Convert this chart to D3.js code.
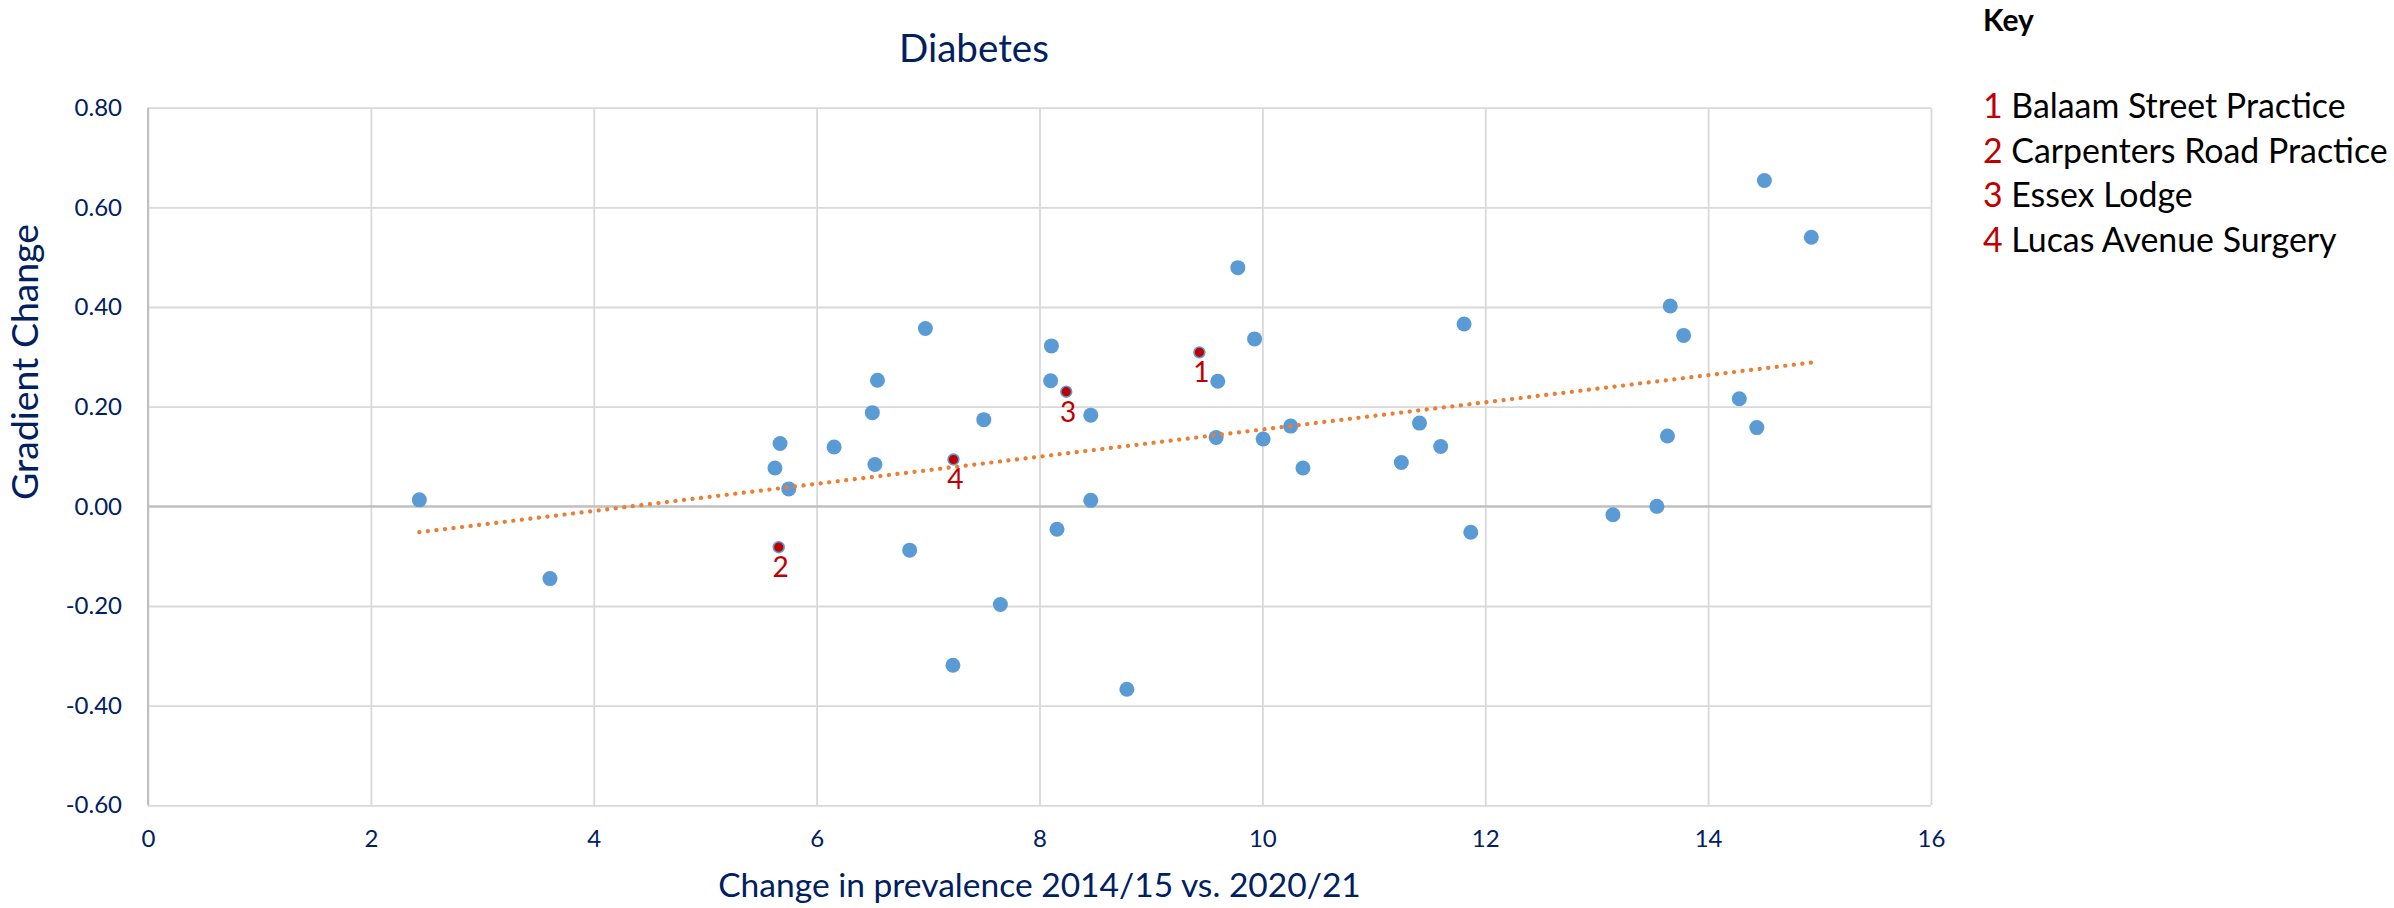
<!DOCTYPE html>
<html>
<head>
<meta charset="utf-8">
<script src="https://cdn.jsdelivr.net/npm/d3@7"></script>
<style>
  html, body { margin: 0; padding: 0; background: #ffffff; }
  svg { display: block; }
  text { font-family: Lato, "Open Sans", "DejaVu Sans", sans-serif; }
</style>
</head>
<body>
<svg id="chart" width="2394" height="908"></svg>
<script>
// Practices: change in prevalence (x) vs gradient change (y)
const practiceX = [2.435, 3.607, 5.626, 5.75, 5.672, 6.157, 6.50, 6.523, 6.546, 6.835,
  6.976, 7.223, 7.50, 7.649, 8.10, 8.107, 8.157, 8.46, 8.46, 8.784,
  9.585, 9.60, 9.78, 9.93, 10.007, 10.254, 10.364, 11.247, 11.41, 11.60,
  11.81, 11.87, 13.146, 13.54, 13.635, 13.66, 13.78, 14.28, 14.437, 14.505, 14.926];
const practiceY = [0.013, -0.145, 0.077, 0.035, 0.126, 0.119, 0.188, 0.084, 0.253, -0.088,
  0.357, -0.319, 0.174, -0.197, 0.252, 0.322, -0.046, 0.183, 0.012, -0.367,
  0.138, 0.251, 0.479, 0.336, 0.135, 0.161, 0.077, 0.088, 0.167, 0.120,
  0.366, -0.052, -0.017, 0.000, 0.141, 0.402, 0.343, 0.216, 0.158, 0.654, 0.540];

// Highlighted practices, numbered in the key
const keyNumbers = ["1", "2", "3", "4"];
const keyNames = ["Balaam Street Practice", "Carpenters Road Practice", "Essex Lodge", "Lucas Avenue Surgery"];
const keyX = [9.435, 5.66, 8.24, 7.228];
const keyY = [0.309, -0.082, 0.230, 0.094];

const xTicks = [0, 2, 4, 6, 8, 10, 12, 14, 16];
const yTicks = [-0.6, -0.4, -0.2, 0, 0.2, 0.4, 0.6, 0.8];

const chartTitle = "Diabetes";
const xTitle = "Change in prevalence 2014/15 vs. 2020/21";
const yTitle = "Gradient Change";
const keyTitle = "Key";

const TEXT = "#002060";
const BLUE = "#5B9BD5";
const RED = "#C00000";
const ORANGE = "#ED7D31";
const GRID = "#D9D9D9";
const AXIS = "#BFBFBF";

const svg = d3.select("#chart");
const plot = { left: 148, right: 1931, top: 107.7, bottom: 805.3 };

const x = d3.scaleLinear().domain([0, 16]).range([plot.left, plot.right]);
const y = d3.scaleLinear().domain([-0.6, 0.8]).range([plot.bottom, plot.top]);

// scale a text element's font so its rendered width equals target
function fitWidth(sel, target) {
  const node = sel.node();
  const fs = parseFloat(sel.attr("font-size"));
  const w = node.getComputedTextLength();
  sel.attr("font-size", fs * target / w);
}

// Gridlines
const gx = svg.append("g")
  .attr("transform", `translate(0,${plot.bottom})`)
  .call(d3.axisBottom(x).tickValues(xTicks).tickSize(-(plot.bottom - plot.top)).tickFormat(""));
gx.select(".domain").remove();
gx.selectAll(".tick line").attr("stroke", GRID).attr("stroke-width", 1.8);

const gy = svg.append("g")
  .attr("transform", `translate(${plot.left},0)`)
  .call(d3.axisLeft(y).tickValues(yTicks).tickSize(-(plot.right - plot.left)).tickFormat(""));
gy.select(".domain").remove();
gy.selectAll(".tick line").attr("stroke", GRID).attr("stroke-width", 1.8);

// Axis lines crossing at zero
svg.append("line")
  .attr("x1", x(0)).attr("x2", x(0))
  .attr("y1", plot.top).attr("y2", plot.bottom)
  .attr("stroke", AXIS).attr("stroke-width", 2);
svg.append("line")
  .attr("x1", plot.left).attr("x2", plot.right)
  .attr("y1", y(0)).attr("y2", y(0))
  .attr("stroke", AXIS).attr("stroke-width", 2.2);

// Tick labels
const xLab = svg.append("g")
  .attr("transform", `translate(0,${plot.bottom})`)
  .call(d3.axisBottom(x).tickValues(xTicks).tickSize(0).tickPadding(25).tickFormat(d3.format("d")));
xLab.select(".domain").remove();
xLab.selectAll("text").attr("fill", TEXT).attr("font-size", 24)
  .style("font-family", "Lato, 'Open Sans', sans-serif");

const yLab = svg.append("g")
  .attr("transform", `translate(${plot.left},0)`)
  .call(d3.axisLeft(y).tickValues(yTicks).tickSize(0).tickPadding(26).tickFormat(d => d.toFixed(2)));
yLab.select(".domain").remove();
yLab.selectAll("text").attr("fill", TEXT).attr("font-size", 24)
  .style("font-family", "Lato, 'Open Sans', sans-serif");

// Practice points
const points = practiceX.map((v, i) => ({ x: v, y: practiceY[i] }));
svg.append("g").selectAll("circle")
  .data(points).join("circle")
  .attr("cx", d => x(d.x)).attr("cy", d => y(d.y))
  .attr("r", 7.5).attr("fill", BLUE);

// Highlighted practices with their numbers
const highlighted = keyX.map((v, i) => ({ x: v, y: keyY[i], n: keyNumbers[i] }));
const hg = svg.append("g");
hg.selectAll("circle")
  .data(highlighted).join("circle")
  .attr("cx", d => x(d.x)).attr("cy", d => y(d.y))
  .attr("r", 5.4).attr("fill", RED)
  .attr("stroke", BLUE).attr("stroke-width", 1.6);
hg.selectAll("text")
  .data(highlighted).join("text")
  .attr("x", d => x(d.x) + 2).attr("y", d => y(d.y) + 30)
  .attr("text-anchor", "middle")
  .attr("font-size", 28).attr("fill", RED)
  .text(d => d.n);

// Linear trendline (least squares) over the practice series
const mx = d3.mean(practiceX), my = d3.mean(practiceY);
let sxy = 0, sxx = 0;
practiceX.forEach((v, i) => { sxy += (v - mx) * (practiceY[i] - my); sxx += (v - mx) * (v - mx); });
const slope = sxy / sxx, intercept = my - slope * mx;
const [xmin, xmax] = d3.extent(practiceX);
svg.append("path")
  .datum([xmin, xmax])
  .attr("d", d3.line().x(d => x(d)).y(d => y(intercept + slope * d)))
  .attr("fill", "none")
  .attr("stroke", ORANGE).attr("stroke-width", 4.2)
  .attr("stroke-linecap", "round")
  .attr("stroke-dasharray", "0.1,8.5");

// Titles
const t = svg.append("text")
  .attr("x", 899).attr("y", 62)
  .attr("font-size", 40).attr("fill", TEXT)
  .text(chartTitle);
fitWidth(t, 150);

const xt = svg.append("text")
  .attr("x", (plot.left + plot.right) / 2).attr("y", 897)
  .attr("text-anchor", "middle")
  .attr("font-size", 34).attr("fill", TEXT)
  .text(xTitle);
fitWidth(xt, 643);

const yt = svg.append("text")
  .attr("transform", "translate(38,362) rotate(-90)")
  .attr("text-anchor", "middle")
  .attr("font-size", 36).attr("fill", TEXT)
  .text(yTitle);
fitWidth(yt, 276);

// Key
svg.append("text")
  .attr("x", 1983).attr("y", 31)
  .attr("font-size", 30).attr("font-weight", "bold").attr("fill", "#000000")
  .text(keyTitle);

const keyRows = keyNames.map((name, i) => ({ n: keyNumbers[i], name }));
const rows = svg.append("g").selectAll("text")
  .data(keyRows).join("text")
  .attr("x", 1983).attr("y", (d, i) => 118 + i * 44.7)
  .attr("font-size", 36);
rows.append("tspan").attr("fill", RED).text(d => d.n);
rows.append("tspan").attr("fill", "#000000").text(d => " " + d.name);
// size the key from its longest row
const longest = rows.filter((d, i) => i === 1);
const fs0 = 36, w0 = longest.node().getComputedTextLength();
rows.attr("font-size", fs0 * 405 / w0);
</script>
</body>
</html>
